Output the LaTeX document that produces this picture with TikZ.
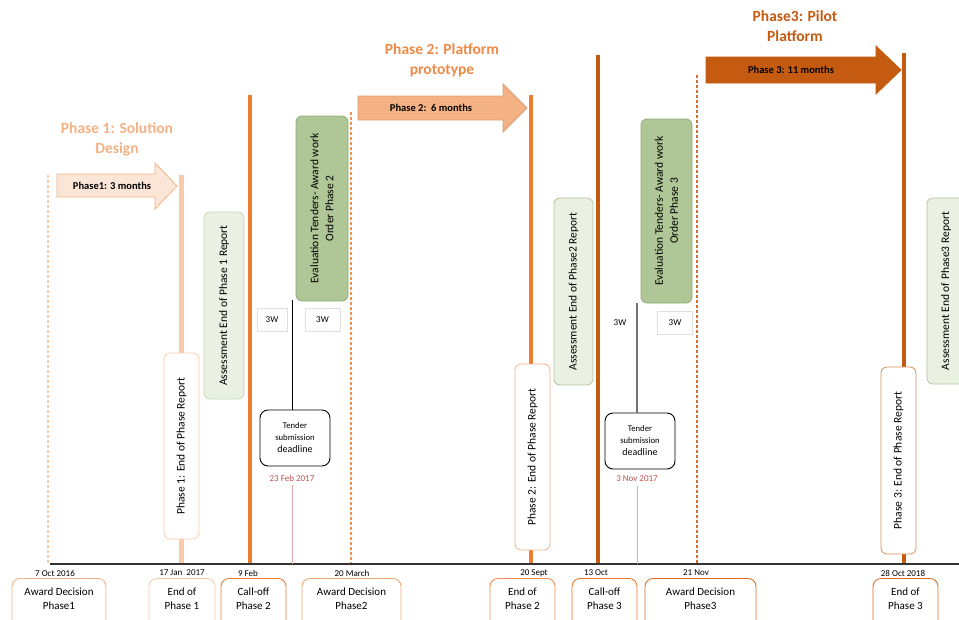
\documentclass[tikz,border=0pt]{standalone}
\usepackage{fontspec}
\setmainfont{Carlito}
\definecolor{peachL}{HTML}{FBE5D6}
\definecolor{peach}{HTML}{F8CBAD}
\definecolor{peachD}{HTML}{F4B183}
\definecolor{orng}{HTML}{ED7D31}
\definecolor{orngD}{HTML}{C55A11}
\definecolor{grnL}{HTML}{EBF1E2}
\definecolor{grnLB}{HTML}{C5D9B4}
\definecolor{grn}{HTML}{AFC697}
\definecolor{grnB}{HTML}{8FAC74}
\definecolor{redD}{HTML}{C0504D}
\definecolor{pinkL}{HTML}{E0A8A8}
\begin{document}
\begin{tikzpicture}[x=1pt,y=-1pt,
  vbox/.style={rotate=90, rounded corners=6pt, inner sep=1pt, align=center, font=\fontsize{11.5}{15}\selectfont, line width=0.8pt},
  report/.style={vbox, fill=white},
  assess/.style={vbox, draw=grnLB, fill=grnL},
  evalbox/.style={vbox, draw=grnB, fill=grn},
  datelbl/.style={font=\fontsize{9}{10}\selectfont, inner sep=0pt},
  wbox/.style={draw=black!12, fill=white, minimum width=32pt, minimum height=23pt, font=\fontsize{9}{10}\selectfont, inner sep=0pt},
  tender/.style={draw=black, line width=0.9pt, rounded corners=8pt, fill=white, minimum width=70pt, minimum height=56pt, align=center, inner sep=0pt},
  botbox/.style={rounded corners=8pt, fill=white, line width=0.9pt, anchor=north, minimum height=60pt, inner sep=0pt},
  bottxt/.style={align=center, font=\fontsize{11}{14}\selectfont, inner sep=0pt},
  title/.style={font=\bfseries\fontsize{15.5}{20}\selectfont, align=center},
  arrtxt/.style={font=\bfseries\fontsize{10.5}{12}\selectfont, inner sep=0pt},
  vthick/.style={line width=3.5pt},
  vdash/.style={line width=1.3pt, dash pattern=on 3pt off 2pt}
]
\useasboundingbox (0,0) rectangle (959,619);
\clip (0,0) rectangle (959,619);

% axis
\coordinate (ax0) at (50,564);
\coordinate (ax1) at (962,564);

% vertical lines
\coordinate (v1t) at (48,175);
\coordinate (v2t) at (181,175);
\coordinate (v3t) at (250,95);
\coordinate (v4t) at (351,112);
\coordinate (v5t) at (531,95);
\coordinate (v6t) at (598,55);
\coordinate (v7t) at (697,75);
\coordinate (v8t) at (904,53);
\draw[vdash, peach] (v1t) -- (v1t |- ax0);
\draw[line width=5pt, peach] (v2t) -- (v2t |- ax0);
\draw[vthick, orng] (v3t) -- (v3t |- ax0);
\draw[vdash, orng!85] (v4t) -- (v4t |- ax0);
\draw[vthick, orng] (v5t) -- (v5t |- ax0);
\draw[vthick, orngD] (v6t) -- (v6t |- ax0);
\draw[vdash, orngD!85] (v7t) -- (v7t |- ax0);
\draw[vthick, orngD] (v8t) -- (v8t |- ax0);

\draw[line width=1.3pt, black!80] (ax0) -- (ax1);

% titles
\node[title, text=peachD] (t1) at (117,139) {Phase 1: Solution\\Design};
\node[title, text=orng!90] (t2) at (442,60) {Phase 2: Platform\\prototype};
\node[title, text=orngD] (t3) at (795,26) {Phase3: Pilot\\Platform};

% phase arrows
\draw[fill=peachL, draw=peachD, line width=0.8pt] (57,174) -- (155,174) -- (155,163) -- (177,186) -- (155,209) -- (155,197) -- (57,197) -- cycle;
\node[arrtxt] (a1) at (112,186) {Phase1: 3 months};
\draw[fill=peachD, draw=peachD!90!black, line width=0.8pt] (358,96) -- (503,96) -- (503,84) -- (527,108) -- (503,132) -- (503,120) -- (358,120) -- cycle;
\node[arrtxt] (a2) at (431,108) {Phase 2:\ \ 6 months};
\draw[fill=orngD, draw=orngD, line width=0.8pt] (706,57) -- (876,57) -- (876,46) -- (901,70) -- (876,94) -- (876,83) -- (706,83) -- cycle;
\node[arrtxt] (a3) at (791,70) {Phase 3: 11 months};

% report boxes
\node[report, draw=peach, minimum width=186pt, minimum height=35pt] (r1) at (181.5,446) {Phase 1: End of Phase Report};
\node[report, draw=peachD, minimum width=186pt, minimum height=35pt] (r2) at (532.5,457) {Phase 2: End of Phase Report};
\node[report, draw=orngD!70, minimum width=187pt, minimum height=35pt] (r3) at (898.5,460.5) {Phase 3: End of Phase Report};

% assessment boxes
\node[assess, minimum width=187pt, minimum height=40pt] (s1) at (224,305.5) {Assessment End of Phase 1 Report};
\node[assess, draw=grn, minimum width=187pt, minimum height=39pt] (s2) at (573.5,291.5) {Assessment End of Phase2 Report};
\node[assess, draw=grn, minimum width=186pt, minimum height=38pt] (s3) at (946,291) {Assessment End of Phase3 Report};

% evaluation boxes
\node[evalbox, minimum width=185pt, minimum height=52pt] (e1) at (322,208.5) {Evaluation Tenders- Award work\\Order Phase 2};
\node[evalbox, minimum width=184pt, minimum height=51pt] (e2) at (666.5,211) {Evaluation Tenders- Award work\\Order Phase 3};

% 3W boxes
\node[wbox, minimum width=30pt] (w1) at (272,319.5) {3W};
\node[wbox, minimum width=35pt] (w2) at (322.5,319.5) {3W};
\node[wbox, draw=white, minimum width=34pt] (w3) at (620,322.5) {3W};
\node[wbox, minimum width=35pt] (w4) at (675,322.5) {3W};

% tender boxes
\node[tender] (d1) at (295,438) {{\fontsize{8.7}{12}\selectfont Tender}\\{\fontsize{8.7}{12}\selectfont submission}\\{\fontsize{10}{13}\selectfont deadline}};
\node[tender] (d2) at (640,441) {{\fontsize{8.7}{12}\selectfont Tender}\\{\fontsize{8.7}{12}\selectfont submission}\\{\fontsize{10}{13}\selectfont deadline}};
\coordinate (c1) at (292,300);
\coordinate (c2) at (637,303);
\draw[black, line width=0.8pt] (c1) -- (c1 |- d1.north);
\draw[black!55, line width=1.2pt] (c2) -- (c2 |- d2.north);

% red dates
\node[datelbl, text=redD] (rd1) at (292,478) {23 Feb 2017};
\node[datelbl, text=redD] (rd2) at (637,479) {3 Nov 2017};
\draw[pinkL, line width=1pt] ([yshift=-4pt]rd1.south -| c1) -- (c1 |- ax0);
\draw[pinkL, line width=1pt] ([yshift=-4pt]rd2.south -| c2) -- (c2 |- ax0);

% axis dates
\node[datelbl] (dt1) at (55,573) {7 Oct 2016};
\node[datelbl] (dt2) at (182,573) {17 Jan\ \ 2017};
\node[datelbl] (dt3) at (248,573) {9 Feb};
\node[datelbl] (dt4) at (352,573) {20 March};
\node[datelbl] (dt5) at (534,573) {20 Sept};
\node[datelbl] (dt6) at (596,573) {13 Oct};
\node[datelbl] (dt7) at (696,573) {21 Nov};
\node[datelbl] (dt8) at (903,573) {28 Oct 2018};

% bottom boxes
\node[botbox, draw=peachD, minimum width=94pt] (b1) at (59,578) {};
\node[bottxt] (b1t) at ([yshift=-21pt]b1.north) {Award Decision\\Phase1};
\node[botbox, draw=peach, minimum width=66pt] (b2) at (182,578) {};
\node[bottxt] (b2t) at ([yshift=-21pt]b2.north) {End of\\Phase 1};
\node[botbox, draw=orng, minimum width=65pt] (b3) at (253.5,578) {};
\node[bottxt] (b3t) at ([yshift=-21pt]b3.north) {Call-off\\Phase 2};
\node[botbox, draw=peachD!80!orng, minimum width=99pt] (b4) at (351.5,578) {};
\node[bottxt] (b4t) at ([yshift=-21pt]b4.north) {Award Decision\\Phase2};
\node[botbox, draw=orng!85, minimum width=65pt] (b5) at (522.5,578) {};
\node[bottxt] (b5t) at ([yshift=-21pt]b5.north) {End of\\Phase 2};
\node[botbox, draw=orng!85!orngD, minimum width=65pt] (b6) at (604.5,578) {};
\node[bottxt] (b6t) at ([yshift=-21pt]b6.north) {Call-off\\Phase 3};
\node[botbox, draw=orng!60!orngD, minimum width=111pt] (b7) at (700.5,578) {};
\node[bottxt] (b7t) at ([yshift=-21pt]b7.north) {Award Decision\\Phase3};
\node[botbox, draw=orng!60!orngD, minimum width=65pt] (b8) at (905.5,578) {};
\node[bottxt] (b8t) at ([yshift=-21pt]b8.north) {End of\\Phase 3};
\end{tikzpicture}
\end{document}
